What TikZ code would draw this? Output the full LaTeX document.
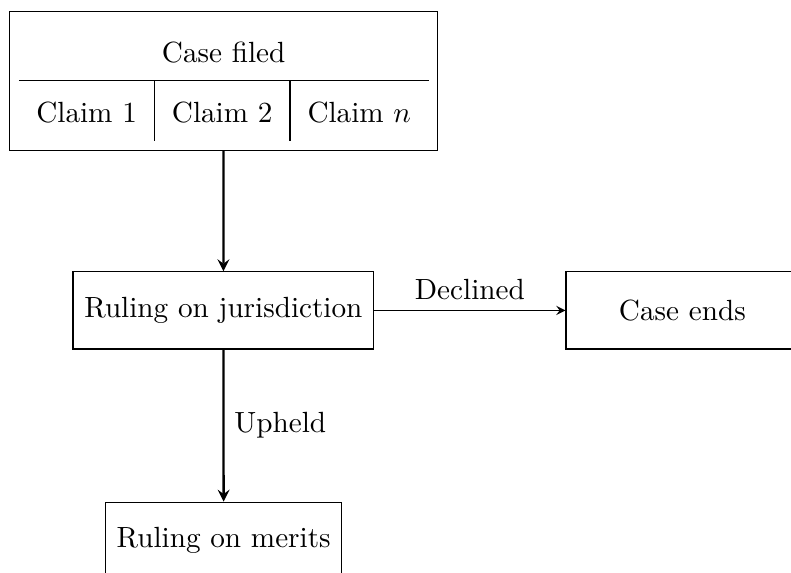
\documentclass[tikz,border=0pt]{standalone}
\usetikzlibrary{arrows.meta}
\begin{document}
\begin{tikzpicture}[x=1pt,y=1pt,
  box/.style={draw, minimum width=2.8cm, minimum height=26.4pt, inner xsep=3.85pt, inner ysep=3.33pt},
  flowthick/.style={-stealth, thick},
  flowthin/.style={-stealth}]
\useasboundingbox (0,0) rectangle (270.9,-196.2);
\node[draw, inner sep=3.2pt] (filed) at (76.6,-27.6)
  {\renewcommand\arraystretch{1.7}\begin{tabular}{c|c|c}\multicolumn{3}{c}{Case filed}\\\hline Claim 1 & Claim 2 & Claim $n$\end{tabular}};
\node[box] (jur) at (76.5,-106.3) {Ruling on jurisdiction};
\node[box] (ends) at (233.7,-106.3) {Case ends};
\node[box] (merits) at (76.6,-185.2) {Ruling on merits};
\draw[flowthick] (filed) -- (jur);
\draw[flowthin] (jur) -- node[above] {Declined} (ends);
\draw[flowthick] (jur) -- node[right] {Upheld} (merits);
\end{tikzpicture}
\end{document}
